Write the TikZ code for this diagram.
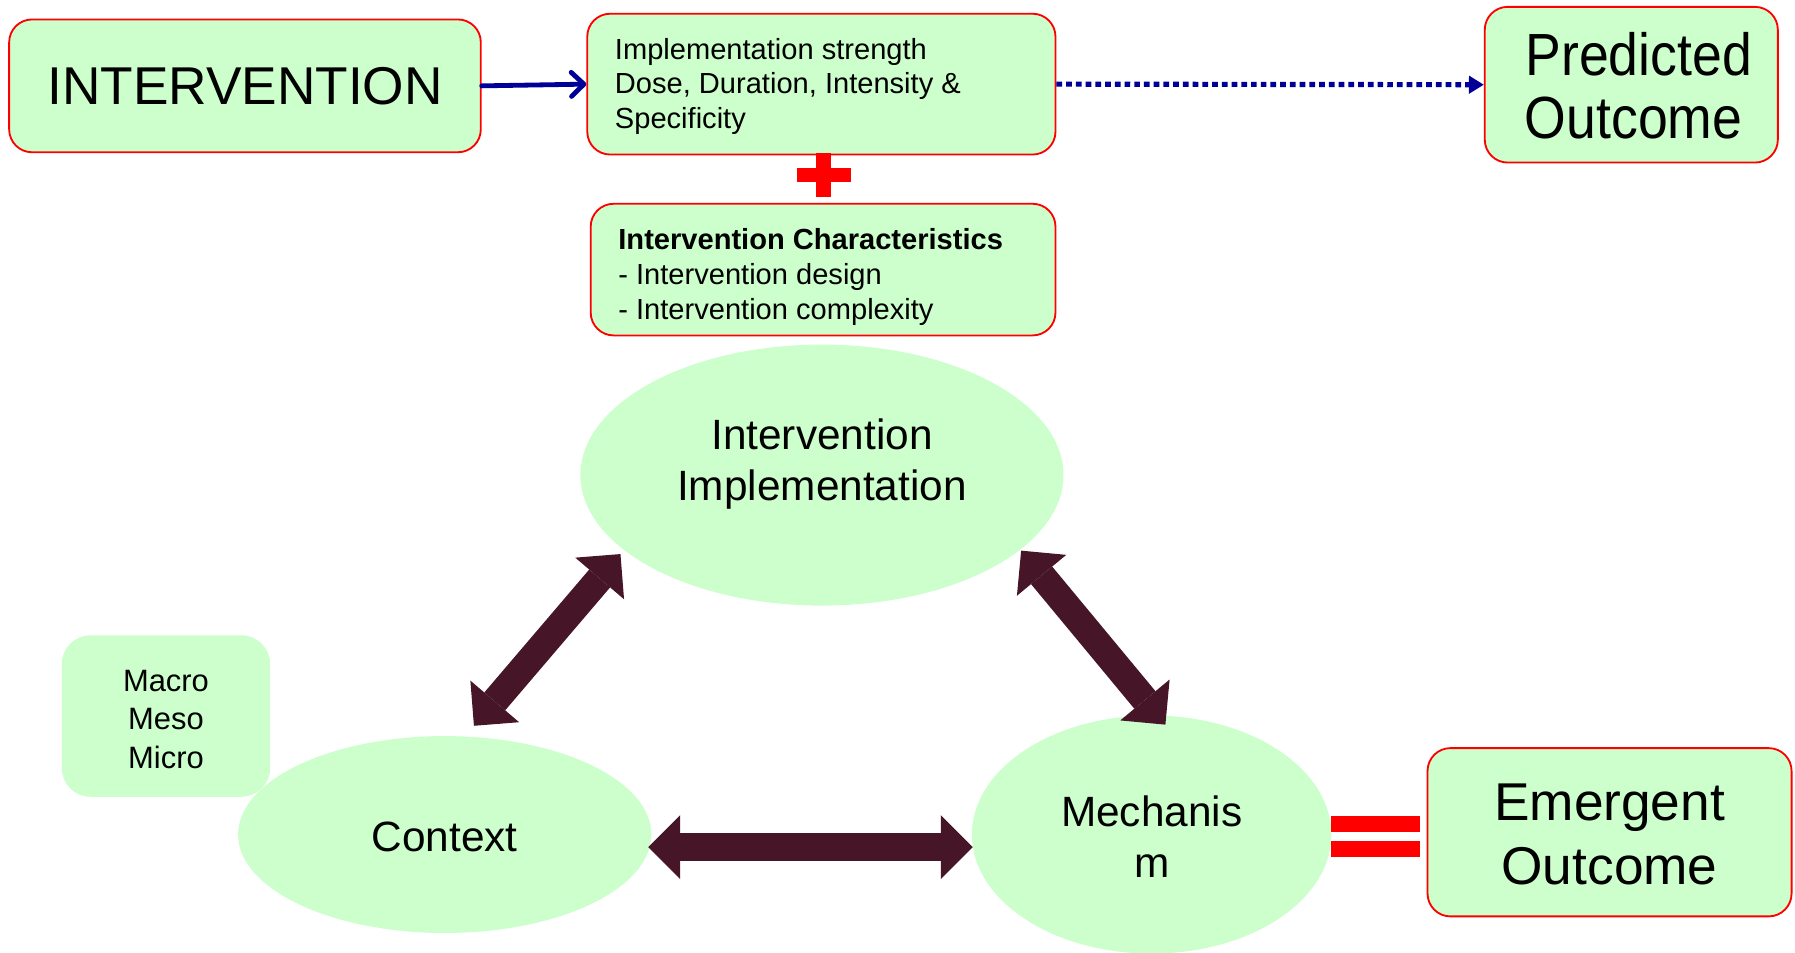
\documentclass[tikz,border=0pt]{standalone}
\usepackage{fontspec}
\setmainfont{Liberation Sans}
\newfontfamily\narrowfont[FakeStretch=0.9]{Liberation Sans}
\usetikzlibrary{arrows.meta,shapes.geometric}

\definecolor{boxgreen}{HTML}{CCFFCC}
\definecolor{boxred}{HTML}{FF0000}
\definecolor{linkblue}{HTML}{000099}
\definecolor{darkmaroon}{HTML}{461528}

\begin{document}
\begin{tikzpicture}[x=1pt,y=-1pt,
  greenbox/.style={draw=boxred, line width=1.6pt, fill=boxgreen, rounded corners=20pt,
                   inner sep=0pt, align=center},
  plainbox/.style={fill=boxgreen, rounded corners=25pt, inner sep=0pt},
  bubble/.style={ellipse, fill=boxgreen, inner sep=0pt},
  plaintext/.style={inner sep=0pt, align=center},
  bodytext/.style={inner sep=0pt, align=left, font=\fontsize{25.4}{30.5}\selectfont},
  bigtext/.style={font=\fontsize{46.5}{56}\selectfont},
  midtext/.style={font=\fontsize{37}{45}\selectfont},
  redsign/.style={fill=boxred, draw=none},
  linkarrow/.style={linkblue, line width=4.2pt, line cap=round,
                    -{Straight Barb[length=11pt,width=21pt,round]}},
  dotlink/.style={linkblue, line width=4.5pt, dash pattern=on 5pt off 3.5pt,
                  -{Triangle[length=13pt,width=15pt]}},
  blockarrow/.style={darkmaroon, line width=24pt,
                     {Triangle[length=28pt,width=56pt,line width=0pt]}-{Triangle[length=28pt,width=56pt,line width=0pt]}}
]
\useasboundingbox (0,0) rectangle (1568,832);

% top row
\node[greenbox, minimum width=412pt, minimum height=116pt, bigtext] (interv) at (214,75) {INTERVENTION};
\node[greenbox, minimum width=409pt, minimum height=123pt] (dose) at (717.5,73.5) {};
\node[bodytext, anchor=north west] (doseT) at (537,33)
  {Implementation strength\\Dose, Duration, Intensity \&\\Specificity};
\node[greenbox, minimum width=256pt, minimum height=136pt] (pred) at (1425,74) {};
\node[plaintext, font=\narrowfont\fontsize{52}{55}\selectfont] (predT) at (1427,75)
  {\hspace*{9pt}Predicted\\Outcome};

% plus sign
\fill[redsign] (696,147) rectangle (743,159);
\fill[redsign] (713,134) rectangle (726,172);

\node[greenbox, minimum width=406pt, minimum height=115pt] (chars) at (719,235.5) {};
\node[bodytext, anchor=north west] (charsT) at (540,199.5)
  {\textbf{Intervention Characteristics}\\- Intervention design\\- Intervention complexity};

% context levels and the three bubbles
\node[plainbox, minimum width=182pt, minimum height=141pt] (levels) at (145,625.5) {};
\node[plaintext, font=\fontsize{27}{33.5}\selectfont] (levelsT) at (145,628.5) {Macro\\Meso\\Micro};
\node[bubble, minimum width=422pt, minimum height=228pt] (impl) at (718,415) {};
\node[plaintext, midtext] (implT) at (718,405.5) {Intervention\\Implementation};
\node[bubble, minimum width=361pt, minimum height=172pt] (ctx) at (388.5,729) {};
\node[plaintext, midtext] (ctxT) at (388.5,731) {Context};
\node[bubble, minimum width=314pt, minimum height=208pt] (mech) at (1006,729) {};
\node[plaintext, midtext] (mechT) at (1006,731) {Mechanis\\m};

% outcome of the mechanism
\node[greenbox, minimum width=318pt, minimum height=147pt] (emerg) at (1406,727) {};
\node[plaintext, bigtext] (emergT) at (1406,729) {Emergent\\Outcome};
\fill[redsign] (1163,713) rectangle (1240,727);
\fill[redsign] (1163,735) rectangle (1240,749);

% connectors
\draw[linkarrow] (interv.east) -- (dose.west);
\draw[dotlink] (dose.east) -- (pred.west);

\coordinate (ctxTop) at (414,634);
\coordinate (implLeft) at (542,484);
\coordinate (implRight) at (892,481);
\coordinate (mechTop) at (1018,633);
\draw[blockarrow] (ctxTop) -- (implLeft);
\draw[blockarrow] (implRight) -- (mechTop);
\draw[blockarrow] ([yshift=-11pt,xshift=-3pt]ctx.east) -- ([yshift=-11pt,xshift=1pt]mech.west);
\end{tikzpicture}
\end{document}
